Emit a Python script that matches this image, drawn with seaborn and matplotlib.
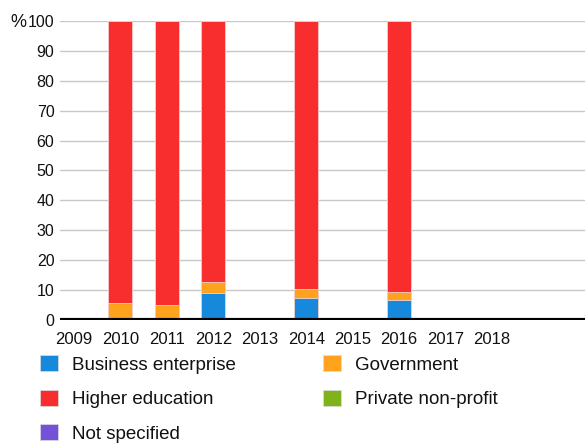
import numpy as np
import pandas as pd
import seaborn as sns
import matplotlib.pyplot as plt
from matplotlib.patches import Patch

all_years = ["2009", "2010", "2011", "2012", "2013", "2014", "2015", "2016", "2017", "2018"]
years = ["2010", "2011", "2012", "2014", "2016"]
business = [0.0, 0.0, 9.1, 7.3, 6.7]
government = [5.8, 4.9, 3.5, 2.9, 2.7]
higher_ed = [94.2, 95.1, 87.4, 89.8, 90.6]
private = [0.0, 0.0, 0.0, 0.0, 0.0]
not_specified = [0.0, 0.0, 0.0, 0.0, 0.0]

sectors = ["Business enterprise", "Government", "Higher education",
           "Private non-profit", "Not specified"]
colors = ["#1689dc", "#ffa21e", "#f72d2e", "#80b21e", "#7551d8"]

sns.set_theme(style="white")
plt.rcParams["font.family"] = ["Liberation Sans", "DejaVu Sans"]

df = pd.DataFrame({"year": years, "Business enterprise": business,
                   "Government": government, "Higher education": higher_ed,
                   "Private non-profit": private, "Not specified": not_specified})
# cumulative totals, drawn from the top down so lower layers cover upper ones
cum = df[sectors].cumsum(axis=1)

fig = plt.figure(figsize=(5.85, 4.43), dpi=100)
ax = fig.add_axes([0.1026, 0.2777, 0.8974, 0.675])

for s, c in reversed(list(zip(sectors, colors))):
    sns.barplot(x=df["year"], y=cum[s], order=all_years, color=c, width=0.52,
                edgecolor="#f7d0d0", linewidth=0.6, saturation=1, ax=ax)

ax.set_ylim(0, 100)
ax.set_xlim(-0.3, 11.0)
ax.set_yticks(range(0, 101, 10))
ax.yaxis.grid(True, color="#c8c8c8", linewidth=1)
ax.set_axisbelow(True)
ax.axhline(0, color="black", linewidth=3, zorder=5)
for sp in ax.spines.values():
    sp.set_visible(False)
ax.set_xlabel("")
ax.set_ylabel("")
ax.tick_params(axis="both", length=0, labelcolor="#111111")
ax.tick_params(axis="x", pad=9, labelsize=12)
ax.tick_params(axis="y", pad=4, labelsize=11.5)
fig.text(0.017, 0.95, "%", fontsize=13, color="#111111", va="center")

order = [0, 2, 4, 1, 3]
handles = [Patch(facecolor=colors[i], edgecolor="#dddddd", linewidth=0.5) for i in order]
labels = [sectors[i] for i in order]
fig.legend(handles, labels, ncol=2, loc="upper left", bbox_to_anchor=(0.068, 0.198),
           frameon=False, fontsize=13.5, handlelength=0.95, handleheight=0.95,
           handletextpad=0.75, columnspacing=4.65, labelspacing=0.85, borderpad=0,
           borderaxespad=0, labelcolor="#111111")

fig.savefig("out.png", dpi=100)
